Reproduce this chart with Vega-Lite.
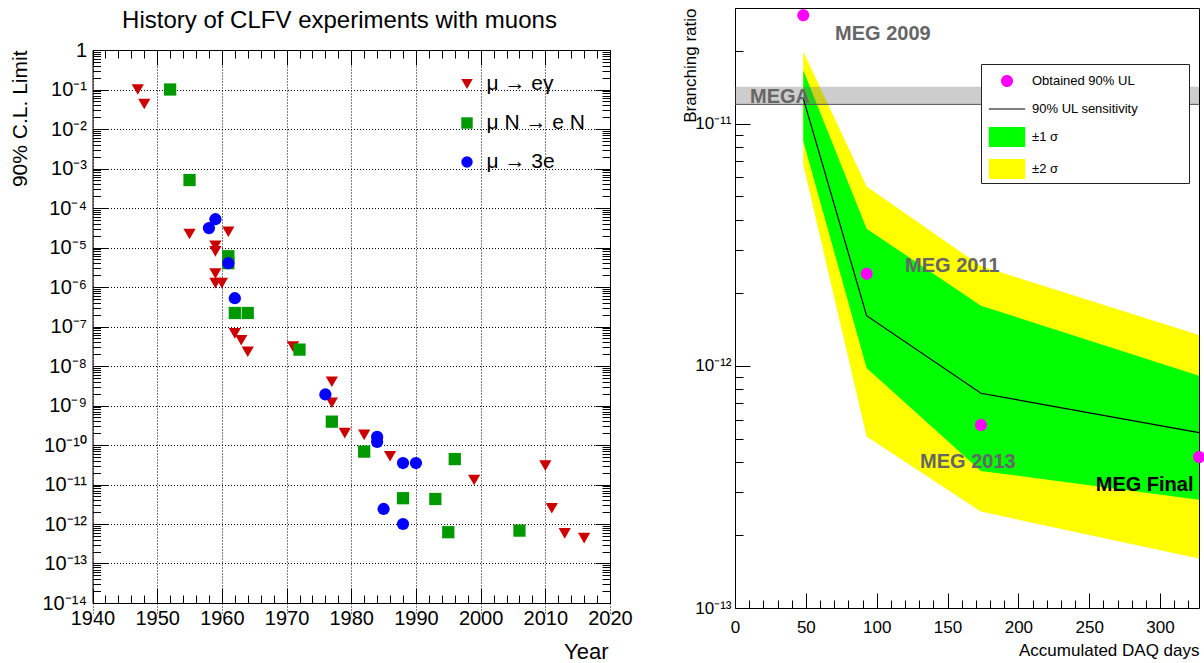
{
  "$schema": "https://vega.github.io/schema/vega-lite/v6.json",
  "background": "white",
  "width": 1204,
  "height": 663,
  "autosize": "none",
  "padding": 0,
  "config": {
    "font": "Liberation Sans",
    "view": {"stroke": null},
    "axis": {"domainColor": "black", "domainWidth": 1, "tickColor": "black", "tickWidth": 1, "labelColor": "black", "titleColor": "black", "titleFontWeight": "normal", "labelFlush": false, "labelOverlap": false, "grid": false, "labelFont": "Liberation Sans", "titleFont": "Liberation Sans"},
    "legend": {"labelColor": "black", "labelFont": "Liberation Sans"}
  },
  "datasets": {
    "clfv": [
      {"year": 1947, "limit": 1e-1, "process": "μ → eγ"},
      {"year": 1948, "limit": 4.3e-2, "process": "μ → eγ"},
      {"year": 1955, "limit": 2.2e-5, "process": "μ → eγ"},
      {"year": 1959, "limit": 1.1e-5, "process": "μ → eγ"},
      {"year": 1959, "limit": 8e-6, "process": "μ → eγ"},
      {"year": 1959, "limit": 2.2e-6, "process": "μ → eγ"},
      {"year": 1959, "limit": 1.25e-6, "process": "μ → eγ"},
      {"year": 1960, "limit": 1.25e-6, "process": "μ → eγ"},
      {"year": 1961, "limit": 2.5e-5, "process": "μ → eγ"},
      {"year": 1962, "limit": 2.2e-7, "process": "μ → eγ"},
      {"year": 1962, "limit": 6.7e-8, "process": "μ → eγ"},
      {"year": 1963, "limit": 4.5e-8, "process": "μ → eγ"},
      {"year": 1964, "limit": 2.3e-8, "process": "μ → eγ"},
      {"year": 1971, "limit": 3.1e-8, "process": "μ → eγ"},
      {"year": 1977, "limit": 4e-9, "process": "μ → eγ"},
      {"year": 1977, "limit": 1.17e-9, "process": "μ → eγ"},
      {"year": 1979, "limit": 2e-10, "process": "μ → eγ"},
      {"year": 1982, "limit": 1.8e-10, "process": "μ → eγ"},
      {"year": 1986, "limit": 5.2e-11, "process": "μ → eγ"},
      {"year": 1999, "limit": 1.3e-11, "process": "μ → eγ"},
      {"year": 2010, "limit": 3e-11, "process": "μ → eγ"},
      {"year": 2011, "limit": 2.5e-12, "process": "μ → eγ"},
      {"year": 2013, "limit": 5.8e-13, "process": "μ → eγ"},
      {"year": 2016, "limit": 4.4e-13, "process": "μ → eγ"},
      {"year": 1952, "limit": 1e-1, "process": "μ N → e N"},
      {"year": 1955, "limit": 5.1e-4, "process": "μ N → e N"},
      {"year": 1961, "limit": 6e-6, "process": "μ N → e N"},
      {"year": 1961, "limit": 4e-6, "process": "μ N → e N"},
      {"year": 1962, "limit": 2.2e-7, "process": "μ N → e N"},
      {"year": 1964, "limit": 2.2e-7, "process": "μ N → e N"},
      {"year": 1972, "limit": 2.6e-8, "process": "μ N → e N"},
      {"year": 1977, "limit": 3.9e-10, "process": "μ N → e N"},
      {"year": 1982, "limit": 6.8e-11, "process": "μ N → e N"},
      {"year": 1988, "limit": 4.5e-12, "process": "μ N → e N"},
      {"year": 1993, "limit": 4.3e-12, "process": "μ N → e N"},
      {"year": 1995, "limit": 6.2e-13, "process": "μ N → e N"},
      {"year": 1996, "limit": 4.4e-11, "process": "μ N → e N"},
      {"year": 2006, "limit": 6.8e-13, "process": "μ N → e N"},
      {"year": 1958, "limit": 3.1e-5, "process": "μ → 3e"},
      {"year": 1959, "limit": 5.2e-5, "process": "μ → 3e"},
      {"year": 1961, "limit": 4e-6, "process": "μ → 3e"},
      {"year": 1962, "limit": 5.2e-7, "process": "μ → 3e"},
      {"year": 1976, "limit": 1.9e-9, "process": "μ → 3e"},
      {"year": 1984, "limit": 1.6e-10, "process": "μ → 3e"},
      {"year": 1984, "limit": 1.2e-10, "process": "μ → 3e"},
      {"year": 1985, "limit": 2.4e-12, "process": "μ → 3e"},
      {"year": 1988, "limit": 3.5e-11, "process": "μ → 3e"},
      {"year": 1990, "limit": 3.5e-11, "process": "μ → 3e"},
      {"year": 1988, "limit": 1e-12, "process": "μ → 3e"}
    ],
    "bands": [
      {"days": 48.2, "ul": 1.27e-11, "s1lo": 8.45e-12, "s1hi": 1.66e-11, "s2lo": 6.77e-12, "s2hi": 1.98e-11},
      {"days": 92.9, "ul": 1.61e-12, "s1lo": 9.8e-13, "s1hi": 3.68e-12, "s2lo": 5.1e-13, "s2hi": 5.5e-12},
      {"days": 173.6, "ul": 7.7e-13, "s1lo": 3.68e-13, "s1hi": 1.77e-12, "s2lo": 2.5e-13, "s2hi": 2.58e-12},
      {"days": 327.5, "ul": 5.3e-13, "s1lo": 2.8e-13, "s1hi": 9.1e-13, "s2lo": 1.6e-13, "s2hi": 1.34e-12}
    ],
    "ul": [
      {"days": 48.2, "br": 2.8e-11, "series": "Obtained 90% UL"},
      {"days": 92.9, "br": 2.4e-12, "series": "Obtained 90% UL"},
      {"days": 173.6, "br": 5.7e-13, "series": "Obtained 90% UL"},
      {"days": 327.5, "br": 4.2e-13, "series": "Obtained 90% UL"}
    ],
    "mega": [
      {"label": "MEGA", "lo": 1.2e-11, "hi": 1.42e-11, "start": 0, "end": 327.5}
    ],
    "labels": [
      {"text": "MEGA", "days": 10.6, "br": 1.29e-11},
      {"text": "MEG 2009", "days": 70.6, "br": 2.35e-11},
      {"text": "MEG 2011", "days": 120, "br": 2.57e-12},
      {"text": "MEG 2013", "days": 130.6, "br": 3.99e-13},
      {"text": "MEG Final", "days": 254.6, "br": 3.22e-13}
    ]
  },
  "layer": [
    {
      "data": {"name": "clfv"},
      "mark": {"type": "point", "filled": true, "size": 150, "opacity": 1, "strokeWidth": 0},
      "encoding": {
        "x": {
          "field": "year", "type": "quantitative",
          "scale": {"domain": [1940, 2020], "range": [92.5, 610], "nice": false, "zero": false},
          "axis": {
            "orient": "bottom", "offset": -60,
            "values": [1940,1942,1944,1946,1948,1950,1952,1954,1956,1958,1960,1962,1964,1966,1968,1970,1972,1974,1976,1978,1980,1982,1984,1986,1988,1990,1992,1994,1996,1998,2000,2002,2004,2006,2008,2010,2012,2014,2016,2018,2020],
            "format": "d",
            "labelExpr": "datum.value % 10 === 0 ? datum.label : ''",
            "labelFontSize": 20, "labelPadding": 20,
            "tickSize": {"condition": {"test": "datum.value % 10 === 0", "value": -15}, "value": -8},
            "grid": true, "gridColor": "black", "gridDash": [1, 2], "gridWidth": 1,
            "gridOpacity": {"condition": {"test": "datum.value % 10 === 0", "value": 1}, "value": 0},
            "title": "Year", "titleFontSize": 22, "titleAlign": "right", "titleBaseline": "alphabetic", "titleX": 608, "titleY": 55
          }
        },
        "y": {
          "field": "limit", "type": "quantitative",
          "scale": {"type": "log", "domain": [1e-14, 1], "range": [603, 50], "nice": false},
          "axis": {
            "orient": "left", "offset": -92.5,
            "tickCount": 30,
            "labelExpr": "abs(log(datum.value)/LN10 - round(log(datum.value)/LN10)) > 0.000001 ? '' : (round(log(datum.value)/LN10) === 0 ? '1' : '10⁻' + (round(-log(datum.value)/LN10) >= 10 ? substring('⁰¹²³⁴⁵⁶⁷⁸⁹', floor(round(-log(datum.value)/LN10)/10), floor(round(-log(datum.value)/LN10)/10) + 1) : '') + substring('⁰¹²³⁴⁵⁶⁷⁸⁹', round(-log(datum.value)/LN10) % 10, round(-log(datum.value)/LN10) % 10 + 1))",
            "labelFontSize": 20, "labelPadding": 21,
            "tickSize": {"condition": {"test": "abs(log(datum.value)/LN10 - round(log(datum.value)/LN10)) < 0.000001", "value": -15}, "value": -8},
            "grid": true, "gridColor": "black", "gridDash": [1, 2], "gridWidth": 1,
            "gridOpacity": {"condition": {"test": "abs(log(datum.value)/LN10 - round(log(datum.value)/LN10)) < 0.000001", "value": 1}, "value": 0},
            "title": "90% C.L. Limit", "titleFontSize": 21, "titleAlign": "right", "titleBaseline": "alphabetic", "titleAngle": 270, "titleX": -66, "titleY": 50
          }
        },
        "color": {
          "field": "process", "type": "nominal",
          "scale": {"domain": ["μ → eγ", "μ N → e N", "μ → 3e"], "range": ["#cc0000", "#009900", "#0000ff"]},
          "legend": {"orient": "none", "legendX": 456.5, "legendY": 73.5, "title": null, "symbolSize": 130, "labelFontSize": 21, "labelOffset": 9, "rowPadding": 17, "padding": 0, "labelLimit": 300}
        },
        "shape": {
          "field": "process", "type": "nominal",
          "scale": {"domain": ["μ → eγ", "μ N → e N", "μ → 3e"], "range": ["triangle-down", "square", "circle"]},
          "legend": {"orient": "none", "legendX": 456.5, "legendY": 73.5, "title": null, "symbolSize": 130, "labelFontSize": 21, "labelOffset": 9, "rowPadding": 17, "padding": 0, "labelLimit": 300}
        }
      }
    },
    {
      "data": {"name": "clfv"},
      "mark": {"type": "point", "opacity": 0},
      "encoding": {
        "x": {
          "field": "year", "type": "quantitative",
          "scale": {"domain": [1940, 2020], "range": [92.5, 610], "nice": false, "zero": false},
          "axis": {
            "orient": "top", "offset": -50,
            "values": [1940,1942,1944,1946,1948,1950,1952,1954,1956,1958,1960,1962,1964,1966,1968,1970,1972,1974,1976,1978,1980,1982,1984,1986,1988,1990,1992,1994,1996,1998,2000,2002,2004,2006,2008,2010,2012,2014,2016,2018,2020],
            "labels": false,
            "tickSize": {"condition": {"test": "datum.value % 10 === 0", "value": -15}, "value": -8},
            "title": "History of CLFV experiments with muons", "titleFontSize": 24, "titleAlign": "center", "titleBaseline": "alphabetic", "titleX": 339, "titleY": -23
          }
        },
        "y": {
          "field": "limit", "type": "quantitative",
          "scale": {"type": "log", "domain": [1e-14, 1], "range": [603, 50], "nice": false},
          "axis": {
            "orient": "right", "offset": -594,
            "tickCount": 30,
            "labels": false, "title": null,
            "tickSize": {"condition": {"test": "abs(log(datum.value)/LN10 - round(log(datum.value)/LN10)) < 0.000001", "value": -15}, "value": -8}
          }
        }
      }
    },
    {
      "data": {"name": "bands"},
      "mark": {"type": "area", "color": "#ffff00", "opacity": 1},
      "encoding": {
        "x": {
          "field": "days", "type": "quantitative",
          "scale": {"domain": [0, 327.5], "range": [735, 1199], "nice": false, "zero": false},
          "axis": {
            "orient": "bottom", "offset": -55,
            "values": [0,10,20,30,40,50,60,70,80,90,100,110,120,130,140,150,160,170,180,190,200,210,220,230,240,250,260,270,280,290,300,310,320],
            "labelExpr": "datum.value % 50 === 0 ? datum.label : ''",
            "labelFontSize": 17, "labelPadding": 26,
            "tickSize": {"condition": {"test": "datum.value % 50 === 0", "value": -15}, "value": -8},
            "title": "Accumulated DAQ days", "titleFontSize": 17, "titleAlign": "right", "titleBaseline": "alphabetic", "titleX": 1199, "titleY": 47
          }
        },
        "y": {
          "field": "s2lo", "type": "quantitative",
          "scale": {"type": "log", "domain": [1e-13, 3e-11], "range": [608, 8], "nice": false},
          "axis": {
            "orient": "left", "offset": -735,
            "tickCount": 30,
            "labelExpr": "abs(log(datum.value)/LN10 - round(log(datum.value)/LN10)) > 0.000001 ? '' : '10⁻' + substring('⁰¹²³⁴⁵⁶⁷⁸⁹', floor(round(-log(datum.value)/LN10)/10), floor(round(-log(datum.value)/LN10)/10) + 1) + substring('⁰¹²³⁴⁵⁶⁷⁸⁹', round(-log(datum.value)/LN10) % 10, round(-log(datum.value)/LN10) % 10 + 1)",
            "labelFontSize": 17, "labelPadding": 19,
            "tickSize": {"condition": {"test": "abs(log(datum.value)/LN10 - round(log(datum.value)/LN10)) < 0.000001", "value": -15}, "value": -8},
            "title": "Branching ratio", "titleFontSize": 17, "titleAlign": "right", "titleBaseline": "alphabetic", "titleAngle": 270, "titleX": -40, "titleY": 8
          }
        },
        "y2": {"field": "s2hi"}
      }
    },
    {
      "data": {"name": "bands"},
      "mark": {"type": "area", "color": "#00ff00", "opacity": 1},
      "encoding": {
        "x": {
          "field": "days", "type": "quantitative",
          "scale": {"domain": [0, 327.5], "range": [735, 1199], "nice": false, "zero": false},
          "axis": {"orient": "top", "offset": -8, "ticks": false, "labels": false, "title": null}
        },
        "y": {
          "field": "s1lo", "type": "quantitative",
          "scale": {"type": "log", "domain": [1e-13, 3e-11], "range": [608, 8], "nice": false},
          "axis": {"orient": "right", "offset": -5, "ticks": false, "labels": false, "title": null}
        },
        "y2": {"field": "s1hi"}
      }
    },
    {
      "data": {"name": "mega"},
      "mark": {"type": "rect", "color": "#666666", "opacity": 0.33},
      "encoding": {
        "x": {"field": "start", "type": "quantitative", "scale": {"domain": [0, 327.5], "range": [735, 1199], "nice": false, "zero": false}, "axis": null},
        "x2": {"field": "end"},
        "y": {"field": "lo", "type": "quantitative", "scale": {"type": "log", "domain": [1e-13, 3e-11], "range": [608, 8], "nice": false}, "axis": null},
        "y2": {"field": "hi"}
      }
    },
    {
      "data": {"name": "mega"},
      "mark": {"type": "rule", "color": "#555555", "strokeWidth": 1},
      "encoding": {
        "x": {"field": "start", "type": "quantitative", "scale": {"domain": [0, 327.5], "range": [735, 1199], "nice": false, "zero": false}, "axis": null},
        "x2": {"field": "end"},
        "y": {"field": "lo", "type": "quantitative", "scale": {"type": "log", "domain": [1e-13, 3e-11], "range": [608, 8], "nice": false}, "axis": null}
      }
    },
    {
      "data": {"name": "bands"},
      "mark": {"type": "line", "color": "black", "strokeWidth": 1.2},
      "encoding": {
        "x": {"field": "days", "type": "quantitative", "scale": {"domain": [0, 327.5], "range": [735, 1199], "nice": false, "zero": false}, "axis": null},
        "y": {"field": "ul", "type": "quantitative", "scale": {"type": "log", "domain": [1e-13, 3e-11], "range": [608, 8], "nice": false}, "axis": null}
      }
    },
    {
      "data": {"name": "labels"},
      "mark": {"type": "text", "align": "left", "baseline": "middle", "fontSize": 20, "fontWeight": "bold", "font": "Liberation Sans"},
      "encoding": {
        "x": {"field": "days", "type": "quantitative", "scale": {"domain": [0, 327.5], "range": [735, 1199], "nice": false, "zero": false}, "axis": null},
        "y": {"field": "br", "type": "quantitative", "scale": {"type": "log", "domain": [1e-13, 3e-11], "range": [608, 8], "nice": false}, "axis": null},
        "text": {"field": "text"},
        "color": {"condition": {"test": "datum.text === 'MEG Final'", "value": "black"}, "value": "#666666"}
      }
    },
    {
      "data": {"name": "ul"},
      "mark": {"type": "point", "filled": true, "size": 784, "opacity": 1, "strokeWidth": 0},
      "encoding": {
        "x": {"field": "days", "type": "quantitative", "scale": {"domain": [0, 327.5], "range": [735, 1199], "nice": false, "zero": false}, "axis": null},
        "y": {"field": "br", "type": "quantitative", "scale": {"type": "log", "domain": [1e-13, 3e-11], "range": [608, 8], "nice": false}, "axis": null},
        "color": {
          "field": "series", "type": "nominal",
          "scale": {"domain": ["Obtained 90% UL", "90% UL sensitivity", "±1 σ", "±2 σ"], "range": ["#ff00ff", "#000000", "#00ff00", "#ffff00"]},
          "legend": {
            "orient": "none", "legendX": 981, "legendY": 64, "title": " ", "titleOrient": "right", "titlePadding": 48, "titleFontSize": 13,
            "symbolSize": 784, "symbolStrokeWidth": 0, "padding": 3, "rowPadding": 7, "symbolOffset": 9, "labelOffset": 11,
            "labelFontSize": 13, "labelLimit": 400, "strokeColor": "#222222", "fillColor": "white"
          }
        },
        "shape": {
          "field": "series", "type": "nominal",
          "scale": {"domain": ["Obtained 90% UL", "90% UL sensitivity", "±1 σ", "±2 σ"], "range": ["M0.43,0A0.43,0.43,0,1,1,-0.43,0A0.43,0.43,0,1,1,0.43,0Z", "M-1.3,-0.04H1.3V0.04H-1.3Z", "M-1.3,-0.72H1.3V0.72H-1.3Z", "M-1.3,-0.72H1.3V0.72H-1.3Z"]},
          "legend": {
            "orient": "none", "legendX": 981, "legendY": 64, "title": " ", "titleOrient": "right", "titlePadding": 48, "titleFontSize": 13,
            "symbolSize": 784, "symbolStrokeWidth": 0, "padding": 3, "rowPadding": 7, "symbolOffset": 9, "labelOffset": 11,
            "labelFontSize": 13, "labelLimit": 400, "strokeColor": "#222222", "fillColor": "white"
          }
        }
      }
    }
  ],
  "resolve": {
    "scale": {"x": "independent", "y": "independent", "color": "independent", "shape": "independent"},
    "axis": {"x": "independent", "y": "independent"},
    "legend": {"color": "independent", "shape": "independent"}
  }
}
